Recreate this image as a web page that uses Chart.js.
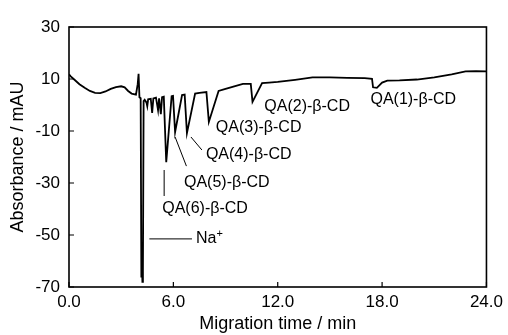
<!DOCTYPE html>
<html>
<head>
<meta charset="utf-8">
<script src="https://cdn.jsdelivr.net/npm/chart.js@4.4.0/dist/chart.umd.min.js"></script>
<style>
  html, body { margin: 0; padding: 0; background: #fff; }
  #wrap { width: 508px; height: 335px; }
</style>
</head>
<body>
<div id="wrap"><canvas id="ce"></canvas></div>
<script>
// electropherogram trace
const times = [
  0.0, 0.1, 0.3, 0.6, 0.9, 1.2, 1.5, 1.8, 2.1, 2.4, 2.7, 3.0, 3.2, 3.4, 3.6, 3.85,
  3.95, 4.0, 4.05, 4.12, 4.16, 4.19, 4.22, 4.25, 4.29, 4.35, 4.45, 4.5, 4.55, 4.7, 4.78, 4.85,
  5.0, 5.12, 5.18, 5.28, 5.35, 5.45, 5.59, 5.9, 5.98, 6.1, 6.5, 6.65, 6.78, 7.25, 7.5,
  7.9, 8.04, 8.6, 9.0, 9.5, 10.0, 10.45, 10.55, 11.1, 11.5, 12.0, 13.0, 14.0, 15.0,
  16.0, 17.0, 17.42, 17.48, 17.7, 18.0, 18.3, 19.0, 20.0, 21.0, 22.0, 22.8, 23.4, 24.0
];
const absorbance = [
  11.8, 11.0, 9.8, 8.0, 6.6, 5.4, 4.7, 4.6, 5.2, 6.2, 6.9, 7.2, 6.8, 5.4, 4.4, 4.0,
  8.0, 12.0, 3.0, 2.6, -66, -60, -68, -64, 1.5, 2.0, 1.0, -0.5, 2.2, 2.4, -3.0, 2.5,
  2.8, -2.0, 2.6, -3.5, 3.0, 3.2, -22, 3.4, 3.5, -10.4, 3.8, 4.0, -10.8, 4.4, 4.7,
  5.0, -6.5, 5.4, 6.2, 7.2, 8.1, 8.1, 1.2, 8.4, 8.6, 8.9, 9.7, 10.6, 10.6,
  10.4, 10.3, 10.1, 6.8, 6.6, 8.6, 9.4, 9.5, 9.8, 10.6, 11.8, 12.9, 13.0, 12.9
];

const xTicks = [0, 6, 12, 18, 24];
const yTicks = [-70, -50, -30, -10, 10, 30];

// peak labels (text, time, absorbance at the label's left/middle)
const labelText = ["QA(1)-β-CD", "QA(2)-β-CD", "QA(3)-β-CD", "QA(4)-β-CD", "QA(5)-β-CD", "QA(6)-β-CD"];
const labelT = [17.33, 11.23, 8.44, 7.87, 6.61, 5.36];
const labelV = [1.9, -0.8, -8.8, -19.2, -30.0, -40.0];

// leader lines [t1, v1, t2, v2]
const leaders = [
  [7.01, -12.3, 7.64, -17.3],
  [6.10, -12.3, 6.75, -23.5],
  [5.47, -25.0, 5.47, -35.0],
  [4.62, -51.5, 7.07, -51.5]
];

const FONT = "'Liberation Sans', Arial, sans-serif";

const framePlugin = {
  id: "frame",
  afterDraw(c) {
    const ctx = c.ctx;
    const a = c.chartArea;
    const xs = c.scales.x, ys = c.scales.y;
    ctx.save();
    ctx.strokeStyle = "#000";
    ctx.lineWidth = 1.6;
    ctx.strokeRect(a.left, a.top, a.right - a.left, a.bottom - a.top);
    // inward ticks
    ctx.lineWidth = 1.2;
    ctx.beginPath();
    xTicks.forEach(t => {
      const px = xs.getPixelForValue(t);
      ctx.moveTo(px, a.bottom);
      ctx.lineTo(px, a.bottom - 5);
    });
    yTicks.forEach(v => {
      const py = ys.getPixelForValue(v);
      ctx.moveTo(a.left, py);
      ctx.lineTo(a.left + 5, py);
    });
    ctx.stroke();

    // leader lines
    ctx.lineWidth = 1;
    ctx.beginPath();
    leaders.forEach(l => {
      ctx.moveTo(xs.getPixelForValue(l[0]), ys.getPixelForValue(l[1]));
      ctx.lineTo(xs.getPixelForValue(l[2]), ys.getPixelForValue(l[3]));
    });
    ctx.stroke();

    // labels
    ctx.fillStyle = "#000";
    ctx.font = "16px " + FONT;
    ctx.textBaseline = "middle";
    ctx.textAlign = "left";
    labelText.forEach((s, i) => {
      ctx.fillText(s, xs.getPixelForValue(labelT[i]), ys.getPixelForValue(labelV[i]));
    });
    const nx = xs.getPixelForValue(7.3), ny = ys.getPixelForValue(-51.5);
    ctx.fillText("Na", nx, ny);
    const w = ctx.measureText("Na").width;
    ctx.font = "11px " + FONT;
    ctx.fillText("+", nx + w, ny - 5);
    ctx.restore();
  }
};

const chart = new Chart(document.getElementById("ce"), {
  type: "line",
  data: {
    datasets: [{
      data: times.map((t, i) => ({ x: t, y: absorbance[i] })),
      borderColor: "#000",
      borderWidth: 1.8,
      pointRadius: 0,
      tension: 0,
      fill: false
    }]
  },
  options: {
    responsive: true,
    maintainAspectRatio: false,
    animation: false,
    layout: { padding: { left: 0, right: 18, top: 27, bottom: 0 } },
    plugins: { legend: { display: false }, tooltip: { enabled: false } },
    scales: {
      x: {
        type: "linear",
        min: 0, max: 24,
        grid: { display: false, drawTicks: false },
        border: { display: false },
        afterBuildTicks: s => { s.ticks = xTicks.map(v => ({ value: v })); },
        afterFit: s => { s.height = 48; },
        ticks: {
          padding: 5,
          color: "#000",
          maxRotation: 0,
          font: { family: FONT, size: 17 },
          callback: v => v.toFixed(1)
        },
        title: {
          display: true,
          text: "Migration time / min",
          color: "#000",
          font: { family: FONT, size: 18 },
          padding: { top: 0, bottom: 0 }
        }
      },
      y: {
        min: -70, max: 30,
        grid: { display: false, drawTicks: false },
        border: { display: false },
        afterBuildTicks: s => { s.ticks = yTicks.map(v => ({ value: v })); },
        afterFit: s => { s.width = 69; },
        ticks: {
          padding: 9,
          color: "#000",
          font: { family: FONT, size: 17 }
        },
        title: {
          display: true,
          text: "Absorbance / mAU",
          color: "#000",
          font: { family: FONT, size: 18 },
          padding: { top: 7, bottom: 0 }
        }
      }
    }
  },
  plugins: [framePlugin]
});
</script>
</body>
</html>
